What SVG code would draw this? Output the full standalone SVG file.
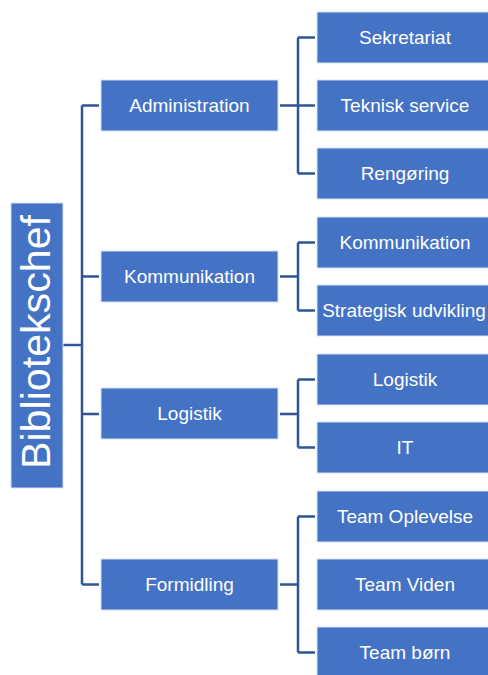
<svg xmlns="http://www.w3.org/2000/svg" width="488" height="675" viewBox="0 0 488 675">
<style>
.box{fill:#4472C4;stroke:#d6e0f2;stroke-width:1}
.t{font-family:"Liberation Sans",Arial,sans-serif;font-size:19px;fill:#ffffff;text-anchor:middle}
.c{fill:none;stroke:#2F5597;stroke-width:2.5}
</style>
<rect width="488" height="675" fill="#ffffff"/>
<g id="connectors">
<path class="c" d="M63,345 H82 M82,105.5 V584.5 M82,105.5 H99 M82,276.5 H99 M82,414 H99 M82,584.5 H99"/>
<path class="c" d="M280,105.5 H298 M298,37.5 V173.5 M298,37.5 H315 M298,105.5 H315 M298,173.5 H315"/>
<path class="c" d="M280,276.5 H298 M298,242.5 V310.5 M298,242.5 H315 M298,310.5 H315"/>
<path class="c" d="M280,414 H298 M298,379.5 V447.5 M298,379.5 H315 M298,447.5 H315"/>
<path class="c" d="M280,584.5 H298 M298,516.5 V652.5 M298,516.5 H315 M298,652.5 H315"/>
</g>
<g id="root"><rect class="box" x="11" y="203" width="52" height="285"/><text transform="translate(50,342) rotate(-90)" font-family="Liberation Sans, Arial, sans-serif" font-size="40" fill="#ffffff" text-anchor="middle" textLength="254" lengthAdjust="spacingAndGlyphs">Bibliotekschef</text></g>
<g id="administration"><rect class="box" x="101" y="80" width="177" height="51"/><text class="t" x="189.5" y="112">Administration</text></g>
<g id="kommunikation"><rect class="box" x="101" y="251" width="177" height="51"/><text class="t" x="189.5" y="283">Kommunikation</text></g>
<g id="logistik"><rect class="box" x="101" y="388" width="177" height="51"/><text class="t" x="189.5" y="420">Logistik</text></g>
<g id="formidling"><rect class="box" x="101" y="559" width="177" height="51"/><text class="t" x="189.5" y="591">Formidling</text></g>
<g id="sekretariat"><rect class="box" x="317" y="12" width="177" height="51"/><text class="t" x="405" y="44">Sekretariat</text></g>
<g id="teknisk-service"><rect class="box" x="317" y="80" width="177" height="51"/><text class="t" x="405" y="112">Teknisk service</text></g>
<g id="rengoring"><rect class="box" x="317" y="148" width="177" height="51"/><text class="t" x="405" y="180">Rengøring</text></g>
<g id="kommunikation-2"><rect class="box" x="317" y="217" width="177" height="51"/><text class="t" x="405" y="249">Kommunikation</text></g>
<g id="strategisk-udvikling"><rect class="box" x="317" y="285" width="177" height="51"/><text class="t" x="404" y="317">Strategisk udvikling</text></g>
<g id="logistik-2"><rect class="box" x="317" y="354" width="177" height="51"/><text class="t" x="405" y="386">Logistik</text></g>
<g id="it"><rect class="box" x="317" y="422" width="177" height="51"/><text class="t" x="405" y="454">IT</text></g>
<g id="team-oplevelse"><rect class="box" x="317" y="491" width="177" height="51"/><text class="t" x="405" y="523">Team Oplevelse</text></g>
<g id="team-viden"><rect class="box" x="317" y="559" width="177" height="51"/><text class="t" x="405" y="591">Team Viden</text></g>
<g id="team-born"><rect class="box" x="317" y="627" width="177" height="51"/><text class="t" x="405" y="659">Team børn</text></g>
</svg>
